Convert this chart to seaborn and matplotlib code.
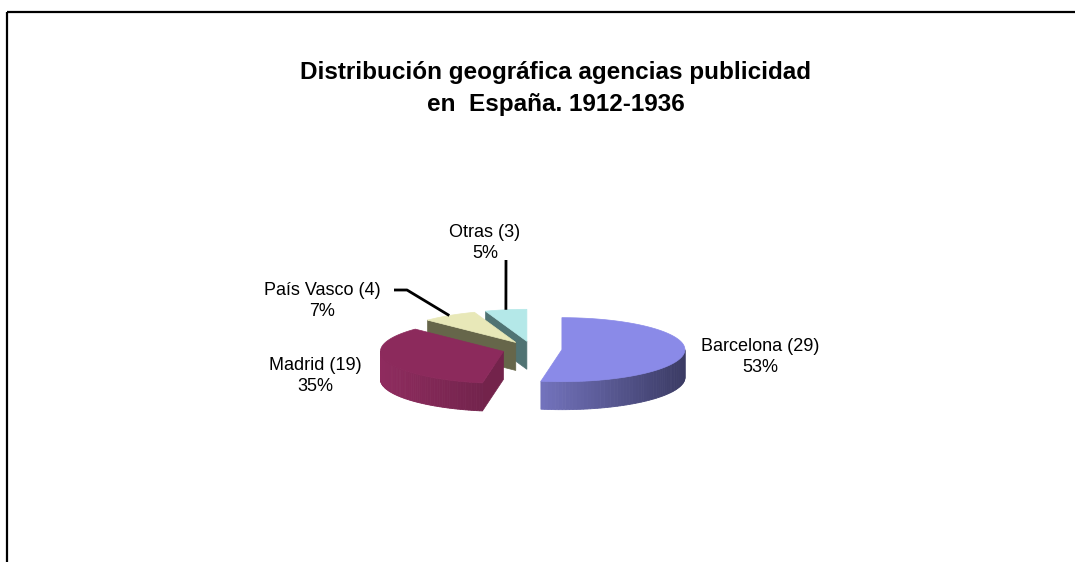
import numpy as np
import matplotlib
matplotlib.use("Agg")
import matplotlib.pyplot as plt
import seaborn as sns
from matplotlib.patches import Polygon, Rectangle

# ---- data ----
regions = ["Barcelona", "Madrid", "País Vasco", "Otras"]
counts = [29, 19, 4, 3]
title_lines = ["Distribución geográfica agencias publicidad", "en  España. 1912-1936"]

# ---- style ----
top_colors = ["#8A8AE8", "#8C2A5C", "#E8E8B8", "#B4E8E8"]
wall_colors = ["#4A4A80", "#73234B", "#66664A", "#507373"]
outer_light = [(0.45, 0.45, 0.74), (0.56, 0.17, 0.37), (0.55, 0.55, 0.40), (0.40, 0.55, 0.55)]
outer_dark = [(0.23, 0.23, 0.39), (0.45, 0.14, 0.30), (0.40, 0.40, 0.28), (0.31, 0.45, 0.45)]
label_pos = [(760, 357), (315, 376), (322, 301), (485, 243)]
leader_start = [None, None, [(394, 290), (407, 290)], [(506, 260)]]

sns.set_theme(style="white")
plt.rcParams['font.family'] = ['Liberation Sans', 'DejaVu Sans']
plt.rcParams['text.color'] = 'black'

fig = plt.figure(figsize=(10.75, 5.62), dpi=100)
ax = fig.add_axes([0, 0, 1, 1])
ax.set_xlim(0, 1075)
ax.set_ylim(562, 0)
ax.axis("off")

# chart frame (right/bottom edges fall outside the image)
ax.add_patch(Rectangle((7, 12), 1200, 700, fill=False, lw=1.6, ec="black"))

# title
ax.text(556, 73, title_lines[0], ha="center", va="center", fontsize=17.5,
        fontweight="bold", color="black")
ax.text(556, 105, title_lines[1], ha="center", va="center", fontsize=17.5,
        fontweight="bold", color="black")

# ---- pseudo 3D exploded pie ----
C = np.array([532.0, 349.0])
a, b, depth, explode = 123.0, 32.0, 28.0, 0.244

vals = np.array(counts, dtype=float)
fr = vals / vals.sum()
ends = np.cumsum(fr) * 2 * np.pi
starts = ends - fr * 2 * np.pi


def rim(cx, cy, th, dz=0.0):
    return cx + a * np.sin(th), cy - b * np.cos(th) + dz


slices = []
for i in range(len(vals)):
    t1, t2 = starts[i], ends[i]
    mid = (t1 + t2) / 2
    cx = C[0] + explode * a * np.sin(mid)
    cy = C[1] - explode * b * np.cos(mid)
    slices.append((cy, i, t1, t2, mid, cx))

centers = {}
for cy, i, t1, t2, mid, cx in sorted(slices):
    centers[i] = (cx, cy, mid)
    # radial walls
    for th, vis in ((t1, np.sin(t1) < -1e-6), (t2, np.sin(t2) > 1e-6)):
        if vis:
            px, py = rim(cx, cy, th)
            poly = [(cx, cy), (px, py), (px, py + depth), (cx, cy + depth)]
            ax.add_patch(Polygon(poly, closed=True, fc=wall_colors[i], ec=wall_colors[i], lw=0.5))
    # outer wall (front half only)
    lo, hi = max(t1, np.pi / 2), min(t2, 3 * np.pi / 2)
    if lo < hi:
        n = 60
        ths = np.linspace(lo, hi, n + 1)
        xs_all = a * np.sin(ths)
        xmin, xmax = xs_all.min(), xs_all.max()
        for k in range(n):
            ta, tb = ths[k], ths[k + 1]
            xa, ya = rim(cx, cy, ta)
            xb, yb = rim(cx, cy, tb)
            xm = a * np.sin((ta + tb) / 2)
            t = (xmax - xm) / max(xmax - xmin, 1e-9)  # 1 at left, 0 at right
            col = tuple(np.array(outer_dark[i]) + (np.array(outer_light[i]) - np.array(outer_dark[i])) * t)
            ax.add_patch(Polygon([(xa, ya), (xb, yb), (xb, yb + depth), (xa, ya + depth)],
                                 closed=True, fc=col, ec=col, lw=0.6))
    # top face
    ths = np.linspace(t1, t2, 200)
    pts = [(cx, cy)] + [rim(cx, cy, th) for th in ths]
    ax.add_patch(Polygon(pts, closed=True, fc=top_colors[i], ec=top_colors[i], lw=0.5))

# labels and leader lines
for i, name in enumerate(regions):
    pct = int(round(100 * fr[i]))
    lx, ly = label_pos[i]
    ax.text(lx, ly, f"{name} ({counts[i]})\n{pct}%", ha="center", va="center",
            fontsize=13, linespacing=1.25, color="black")
    if leader_start[i] is not None:
        cx, cy, mid = centers[i]
        ex, ey = rim(cx, cy, mid)
        xs = [p[0] for p in leader_start[i]] + [ex]
        ys = [p[1] for p in leader_start[i]] + [ey]
        ax.plot(xs, ys, color="black", lw=2.0, solid_capstyle="butt")

fig.savefig("out.png", dpi=100)
